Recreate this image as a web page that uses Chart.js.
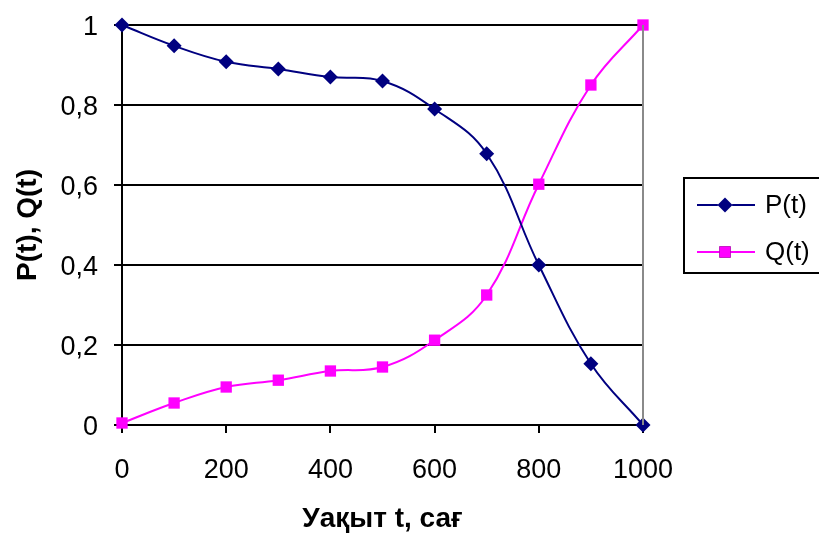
<!DOCTYPE html>
<html>
<head>
<meta charset="utf-8">
<script src="https://cdn.jsdelivr.net/npm/chart.js@4.4.0/dist/chart.umd.min.js"></script>
<style>
html,body{margin:0;padding:0;background:#fff;}
#wrap{width:819px;height:533px;position:relative;}
</style>
</head>
<body>
<div id="wrap"><canvas id="c"></canvas></div>
<script>
const hours = [0, 100, 200, 300, 400, 500, 600, 700, 800, 900, 1000];
const pValues = [1, 0.948, 0.908, 0.89, 0.87, 0.86, 0.79, 0.678, 0.40, 0.153, 0];
const qValues = [0.005, 0.055, 0.095, 0.112, 0.135, 0.145, 0.212, 0.325, 0.602, 0.85, 1];
const seriesNames = ['P(t)', 'Q(t)'];
const xTitle = 'Уақыт t, сағ';
const yTitle = 'P(t), Q(t)';
const xTickStep = 200;
const yTickStep = 0.2;

const FONT = 'Liberation Sans, Arial, sans-serif';

const legendPlugin = {
  id: 'boxLegend',
  afterDraw(chart) {
    const ctx = chart.ctx;
    const ca = chart.chartArea;
    ctx.save();
    // right border of plot area
    ctx.strokeStyle = '#8a8a8a';
    ctx.lineWidth = 2;
    ctx.beginPath();
    ctx.moveTo(ca.right, ca.top);
    ctx.lineTo(ca.right, ca.bottom);
    ctx.stroke();
    // legend box
    const bx = 684, by = 178, bw = 140, bh = 95;
    ctx.fillStyle = '#fff';
    ctx.fillRect(bx, by, bw, bh);
    ctx.strokeStyle = '#000';
    ctx.lineWidth = 2;
    ctx.strokeRect(bx, by, bw, bh);
    const rows = [205, 252];
    chart.data.datasets.forEach((ds, i) => {
      const y = rows[i];
      ctx.strokeStyle = ds.borderColor;
      ctx.lineWidth = 2;
      ctx.beginPath();
      ctx.moveTo(697, y);
      ctx.lineTo(755, y);
      ctx.stroke();
      Chart.helpers.drawPoint(ctx, {pointStyle: ds.pointStyle, radius: ds.pointRadius, borderWidth: 0}, 725, y);
      ctx.fillStyle = ds.pointBackgroundColor;
      ctx.fill();
      ctx.fillStyle = '#000';
      ctx.font = '26px ' + FONT;
      ctx.textAlign = 'left';
      ctx.textBaseline = 'middle';
      ctx.fillText(ds.label, 765, y + 1);
    });
    ctx.restore();
  }
};

const toPts = (vals) => hours.map((h, i) => ({x: h, y: vals[i]}));

new Chart(document.getElementById('c'), {
  type: 'line',
  data: {
    datasets: [
      {
        label: seriesNames[0],
        data: toPts(pValues),
        borderColor: '#000080',
        backgroundColor: '#000080',
        pointBackgroundColor: '#000080',
        pointBorderColor: '#000080',
        pointBorderWidth: 0,
        pointStyle: 'rectRot',
        pointRadius: 7.5,
        borderWidth: 2,
        tension: 0.4,
        clip: false
      },
      {
        label: seriesNames[1],
        data: toPts(qValues),
        borderColor: '#ff00ff',
        backgroundColor: '#ff00ff',
        pointBackgroundColor: '#ff00ff',
        pointBorderColor: '#ff00ff',
        pointBorderWidth: 0,
        pointStyle: 'rect',
        pointRadius: 8,
        borderWidth: 2,
        tension: 0.4,
        clip: false
      }
    ]
  },
  options: {
    responsive: true,
    maintainAspectRatio: false,
    animation: false,
    events: [],
    layout: {padding: {left: 0, top: 25, right: 176, bottom: 0}},
    plugins: {legend: {display: false}, tooltip: {enabled: false}},
    scales: {
      x: {
        type: 'linear',
        min: 0,
        max: 1000,
        afterFit: (s) => { s.height = 108; },
        ticks: {
          stepSize: xTickStep,
          color: '#000',
          font: {family: FONT, size: 27},
          padding: 21,
          maxRotation: 0,
          callback: (v) => String(v)
        },
        grid: {drawOnChartArea: false, drawTicks: true, tickLength: 8, color: '#000', lineWidth: 2},
        border: {color: '#000', width: 2},
        title: {display: true, text: xTitle, color: '#000', font: {family: FONT, size: 28, weight: 'bold', lineHeight: 1.0}, padding: {top: 0, bottom: 0}}
      },
      y: {
        min: 0,
        max: 1,
        afterFit: (s) => { s.width = 122; },
        ticks: {
          stepSize: yTickStep,
          color: '#000',
          font: {family: FONT, size: 27, lineHeight: 0.5},
          padding: 16,
          labelOffset: 3,
          callback: (v) => (v === 0 || v === 1) ? String(v) : v.toFixed(1).replace('.', ',')
        },
        grid: {drawTicks: true, tickLength: 8, color: '#000', lineWidth: 2},
        border: {color: '#000', width: 2},
        title: {display: true, text: yTitle, color: '#000', font: {family: FONT, size: 28, weight: 'bold', lineHeight: 1.2}, padding: {top: 11, bottom: 0}}
      }
    }
  },
  plugins: [legendPlugin]
});
</script>
</body>
</html>
